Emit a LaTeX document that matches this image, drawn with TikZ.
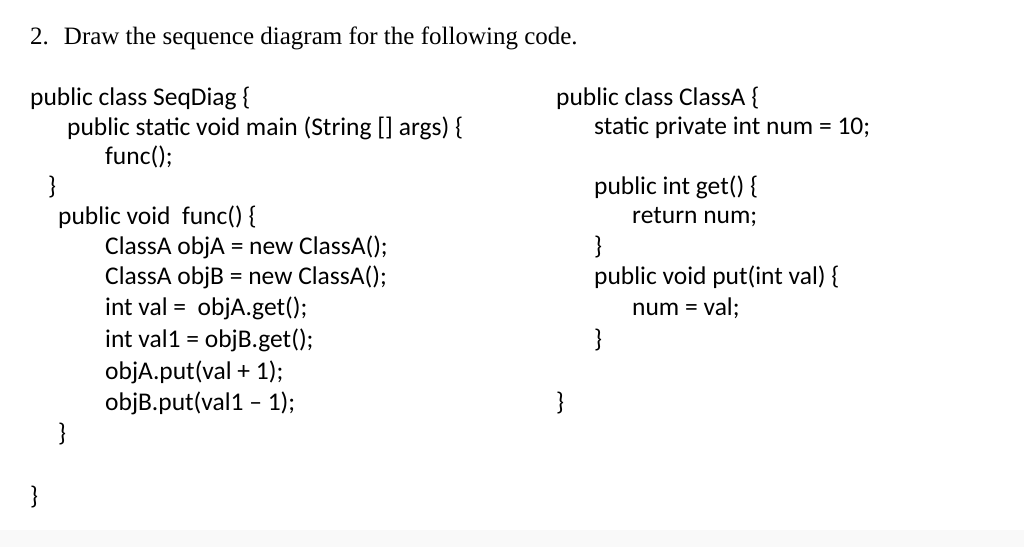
\documentclass[tikz,border=0pt]{standalone}
\usepackage{fontspec}
\setmainfont{Carlito}
\newfontfamily\titlefont{Liberation Serif}
\begin{document}
\begin{tikzpicture}[x=1pt,y=-1pt,
  code/.style={anchor=west,inner sep=0pt,font=\fontsize{25.5}{28}\selectfont}]
\useasboundingbox[fill=white] (0,0) rectangle (1024,547);
\fill[gray!5] (0,530) rectangle (1024,547);
\node[anchor=west,inner sep=0pt,font=\titlefont\fontsize{25}{28}\selectfont] (t) at (30,38) {2.\hspace{0.6em}Draw the sequence diagram for the following code.};
\node[code] (l1) at (30,98) {public class SeqDiag \{};
\node[code] (l2) at (67,128) {public static void main (String [] args) \{};
\node[code] (l3) at (105,157) {func();};
\node[code] (l4) at (48,187) {\}};
\node[code] (l5) at (58,217) {public void\ \ func() \{};
\node[code] (l6) at (105,247) {ClassA objA = new ClassA();};
\node[code] (l7) at (105,277) {ClassA objB = new ClassA();};
\node[code] (l8) at (105,308) {int val =\ \ objA.get();};
\node[code] (l9) at (105,340) {int val1 = objB.get();};
\node[code] (l10) at (105,372) {objA.put(val + 1);};
\node[code] (l11) at (105,403) {objB.put(val1 -- 1);};
\node[code] (l12) at (58,434) {\}};
\node[code] (l13) at (30,497) {\}};
\node[code] (r1) at (556,98) {public class ClassA \{};
\node[code] (r2) at (594,128) {static private int num = 10;};
\node[code] (r3) at (594,187) {public int get() \{};
\node[code] (r4) at (632,217) {return num;};
\node[code] (r5) at (594,247) {\}};
\node[code] (r6) at (594,277) {public void put(int val) \{};
\node[code] (r7) at (632,308) {num = val;};
\node[code] (r8) at (594,340) {\}};
\node[code] (r9) at (556,403) {\}};
\end{tikzpicture}
\end{document}
